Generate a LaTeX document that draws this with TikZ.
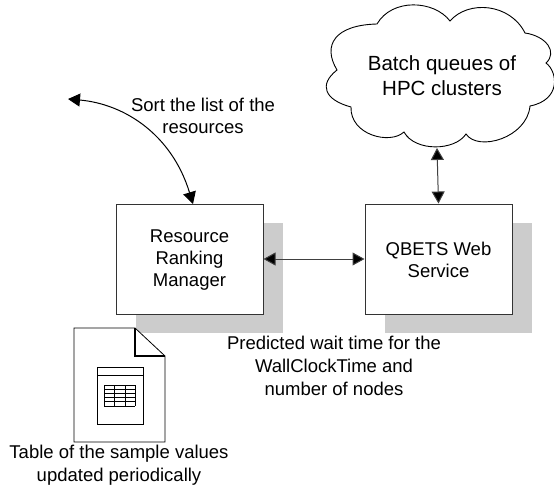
\documentclass[tikz,border=0pt]{standalone}
\usepackage{fontspec}
\setmainfont{Liberation Sans}
\usetikzlibrary{arrows.meta}
\tikzset{
  label text/.style={align=center,font=\fontsize{18.5}{22.7}\selectfont,text=black,inner sep=0pt},
  panel/.style={draw=black!80,line width=1pt,fill=white,minimum width=147pt,minimum height=110pt,inner sep=0pt,align=center,font=\fontsize{18.5}{22}\selectfont},
  shade box/.style={fill=black!20,draw=none},
  link/.style={draw=black!75,line width=1pt,{Triangle[length=12pt,width=13pt,fill=black]}-{Triangle[length=12pt,width=13pt,fill=black]}},
}
\begin{document}
\begin{tikzpicture}[x=1pt,y=-1pt]
\useasboundingbox (0,0) rectangle (554,487);
% shadows
\fill[shade box] (136,223) rectangle (283,333);
\fill[shade box] (385,223) rectangle (532,333);
% boxes
\node[panel] (rrm) at (189.5,259) {};
\node[label text,font=\fontsize{18.5}{22}\selectfont] (rrmtext) at (189.5,260) {Resource\\Ranking\\Manager};
\node[panel] (qbets) at (438.5,259) {};
\node[label text,font=\fontsize{18.5}{22}\selectfont] (qbetstext) at (438.5,260) {QBETS Web\\Service};
% cloud
\draw[line width=0.9pt,fill=white]
  (377,24) .. controls (392,-2) and (434,0) .. (450,21)
  .. controls (468,0) and (510,3) .. (525,33)
  .. controls (546,36) and (558,52) .. (546,63)
  .. controls (558,72) and (561,100) .. (530,106)
  .. controls (527,138) and (478,152) .. (466,134)
  .. controls (455,151) and (415,152) .. (404,132)
  .. controls (390,145) and (350,135) .. (351,107)
  .. controls (325,100) and (318,85) .. (337,70)
  .. controls (322,45) and (335,25) .. (377,24) -- cycle;
\node[label text,font=\fontsize{20.5}{25}\selectfont] (cloudtext) at (442,76) {Batch queues of\\HPC clusters};
\coordinate (cloudbottom) at (437,148);
\coordinate (free) at (68,99);
% connectors
\draw[link] (rrm.east) -- (qbets.west);
\draw[link] (qbets.north) -- (cloudbottom);
\draw[link,draw=black] (free) .. controls (125,104) and (172,135) .. (193,204);
% texts
\node[label text] (sortlabel) at (203,116) {Sort the list of the\\resources};
\node[label text] (predlabel) at (334,366) {Predicted wait time for the\\WallClockTime and\\number of nodes};
\node[label text] (tablelabel) at (119,465) {Table of the sample values\\updated periodically};
% document icon
\draw[line width=0.8pt,fill=white] (74,328) -- (135,328) -- (165,356) -- (165,442) -- (74,442) -- cycle;
\draw[line width=1.3pt] (135,328) -- (135,356) -- (165,356);
\draw[line width=0.8pt] (97,367) rectangle (143,424);
\draw[line width=0.8pt] (97,375) -- (143,375);
\foreach \yy in {385,389,393,397,401,406} \draw[line width=0.9pt] (104,\yy) -- (135,\yy);
\foreach \xx in {104,114,125,135} \draw[line width=0.9pt] (\xx,385) -- (\xx,406);
\end{tikzpicture}
\end{document}
